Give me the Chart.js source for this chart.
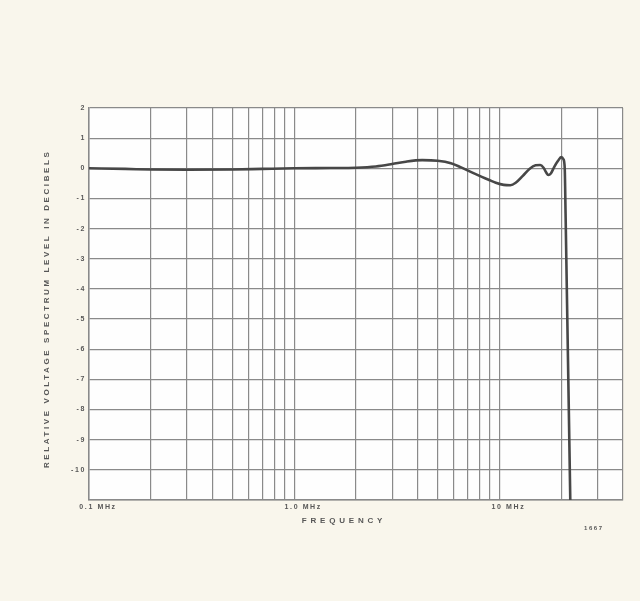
<!DOCTYPE html>
<html>
<head>
<meta charset="utf-8">
<script src="https://cdn.jsdelivr.net/npm/chart.js@4.4.1/dist/chart.umd.min.js"></script>
<style>
  html, body { margin: 0; padding: 0; background: #f9f6ec; }
  canvas { display: block; }
</style>
</head>
<body>
<canvas id="c" width="640" height="601"></canvas>
<script>
// Frequency (MHz) and relative level (dB)
const freqsMHz = [0.1, 0.15, 0.2, 0.3, 0.5, 0.7, 1.0, 1.5, 2.0, 2.5, 3.0, 3.5, 4.2, 5.0, 5.8, 6.5, 7.2, 8.0, 8.8, 9.6, 10.5, 11.3, 12.0, 13.0, 14.0, 15.0, 15.8, 16.4, 16.9, 17.3, 17.8, 18.5, 19.3, 20.0, 20.5, 20.8, 21.0, 22.2];
const levelsDb = [0, -0.02, -0.04, -0.05, -0.04, -0.02, 0, 0.01, 0.02, 0.06, 0.14, 0.22, 0.27, 0.25, 0.17, 0.03, -0.11, -0.25, -0.37, -0.48, -0.55, -0.56, -0.48, -0.25, -0.02, 0.1, 0.11, 0.02, -0.14, -0.22, -0.17, 0.05, 0.25, 0.37, 0.3, 0.0, -1.5, -11.5];

// Grid positions on the log frequency axis and the labelled ones
const xGridValues = [0.1,0.2,0.3,0.4,0.5,0.6,0.7,0.8,0.9,1,2,3,4,5,6,7,8,9,10,20,30,40];
const xTickLabels = { 0.1: '0.1 MHz', 1: '1.0 MHz', 10: '10 MHz' };
const yMin = -11, yMax = 2;
const xTitle = 'FREQUENCY    ';
const yTitle = 'RELATIVE VOLTAGE SPECTRUM LEVEL IN DECIBELS  ';

const gridColor = '#8a8a8a';
const textColor = '#575757';
const letterSpacingFor = { [xTitle]: '3.8px', [yTitle]: '2.6px' };

const spacingPlugin = {
  id: 'spacing',
  beforeDraw(chart) {
    const ctx = chart.ctx;
    ctx.save();
    const a = chart.chartArea;
    ctx.fillStyle = '#fefefe';
    ctx.fillRect(a.left, a.top, a.right - a.left, a.bottom - a.top);
    ctx.restore();
    if (!ctx.__patched) {
      const orig = ctx.fillText;
      ctx.fillText = function (t, x, y, m) {
        this.letterSpacing = letterSpacingFor[t] || '1.6px';
        return m === undefined ? orig.call(this, t, x, y) : orig.call(this, t, x, y, m);
      };
      ctx.__patched = true;
    }
  },
  afterDraw(chart) {
    const ctx = chart.ctx;
    ctx.save();
    ctx.fillStyle = textColor;
    ctx.font = 'bold 6px "Liberation Sans", Arial, sans-serif';
    ctx.textAlign = 'left';
    ctx.textBaseline = 'middle';
    ctx.fillText('1667', 584, 528);
    ctx.restore();
  }
};

new Chart(document.getElementById('c'), {
  type: 'line',
  data: {
    datasets: [{
      data: freqsMHz.map((f, i) => ({ x: f, y: levelsDb[i] })),
      borderColor: '#474747',
      borderWidth: 2.6,
      pointRadius: 0,
      cubicInterpolationMode: 'monotone',
      fill: false
    }]
  },
  options: {
    responsive: false,
    animation: false,
    clip: { left: 0, right: 0, top: 0, bottom: 0 },
    layout: { padding: { top: 108, right: 17, bottom: 71, left: 38 } },
    plugins: { legend: { display: false }, tooltip: { enabled: false } },
    scales: {
      x: {
        type: 'logarithmic',
        min: 0.1,
        max: 40,
        afterBuildTicks(scale) { scale.ticks = xGridValues.map(v => ({ value: v })); },
        afterFit(scale) { scale.height = 30; },
        grid: { color: gridColor, lineWidth: 1.2, drawTicks: false },
        border: { display: true, color: gridColor, width: 1.5 },
        ticks: {
          autoSkip: false,
          maxRotation: 0,
          minRotation: 0,
          padding: 3,
          labelOffset: 9,
          color: textColor,
          font: { family: '"Liberation Sans", Arial, sans-serif', size: 7, weight: 'bold' },
          callback(value) {
            const key = Math.round(value * 10) / 10;
            return xTickLabels[key] !== undefined ? xTickLabels[key] : '';
          }
        },
        title: {
          display: true,
          text: xTitle,
          color: textColor,
          padding: { top: 0, bottom: 4 },
          font: { family: '"Liberation Sans", Arial, sans-serif', size: 8, weight: 'bold' }
        }
      },
      y: {
        min: yMin,
        max: yMax,
        afterFit(scale) { scale.width = 51; },
        grid: { color: gridColor, lineWidth: 1.2, drawTicks: false },
        border: { display: true, color: gridColor, width: 1.5 },
        ticks: {
          stepSize: 1,
          padding: 3,
          color: textColor,
          font: { family: '"Liberation Sans", Arial, sans-serif', size: 7, weight: 'bold' },
          callback(value) { return value === yMin ? '' : String(value); }
        },
        title: {
          display: true,
          text: yTitle,
          color: textColor,
          padding: { top: 4, bottom: 0 },
          font: { family: '"Liberation Sans", Arial, sans-serif', size: 8, weight: 'bold' }
        }
      }
    }
  },
  plugins: [spacingPlugin]
});
</script>
</body>
</html>
